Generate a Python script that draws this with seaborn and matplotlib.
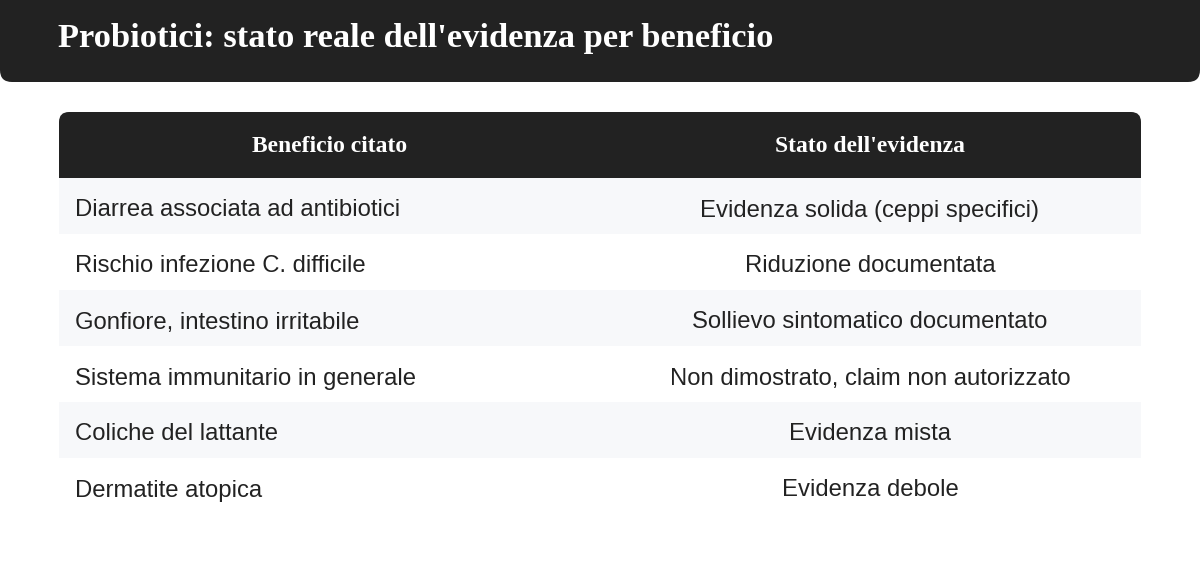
import matplotlib
matplotlib.use("Agg")
import matplotlib.pyplot as plt
from matplotlib.patches import FancyBboxPatch, Rectangle
import seaborn as sns

title = "Probiotici: stato reale dell'evidenza per beneficio"
headers = ["Beneficio citato", "Stato dell'evidenza"]
benefits = ["Diarrea associata ad antibiotici", "Rischio infezione C. difficile",
            "Gonfiore, intestino irritabile", "Sistema immunitario in generale",
            "Coliche del lattante", "Dermatite atopica"]
status = ["Evidenza solida (ceppi specifici)", "Riduzione documentata",
          "Sollievo sintomatico documentato", "Non dimostrato, claim non autorizzato",
          "Evidenza mista", "Evidenza debole"]

sns.set_theme(style="white")
fig = plt.figure(figsize=(12, 5.84), dpi=100)
ax = fig.add_axes([0, 0, 1, 1])
ax.set_xlim(0, 1200); ax.set_ylim(584, 0); ax.axis("off")

dark = "#222222"
ax.add_patch(FancyBboxPatch((0, -20), 1200, 102, boxstyle="round,pad=0,rounding_size=12",
                            fc=dark, ec="none"))
ax.text(58, 39, title, color="white", fontsize=24.8, fontweight="bold",
        family="Liberation Serif", va="center", ha="left")

ax.add_patch(FancyBboxPatch((59, 112), 1082, 66, boxstyle="round,pad=0,rounding_size=10",
                            fc=dark, ec="none"))
ax.add_patch(Rectangle((59, 160), 1082, 18, fc=dark, ec="none"))
for h, x in zip(headers, [330, 870]):
    ax.text(x, 147, h, color="white", fontsize=17, fontweight="bold",
            family="Liberation Serif", ha="center", va="center")

rh = 56
for i, (b, s) in enumerate(zip(benefits, status)):
    y0 = 178 + i * rh
    if i % 2 == 0:
        ax.add_patch(Rectangle((59, y0), 1082, rh, fc="#f7f8fa", ec="none"))
    yc = y0 + rh / 2 + 2
    ax.text(75, yc, b, fontsize=17.2, color="#222222", family="Liberation Sans",
            ha="left", va="center_baseline")
    ax.text(870, yc, s, fontsize=17.2, color="#222222", family="Liberation Sans",
            ha="center", va="center_baseline")

fig.savefig("out.png", dpi=100, facecolor="white")
